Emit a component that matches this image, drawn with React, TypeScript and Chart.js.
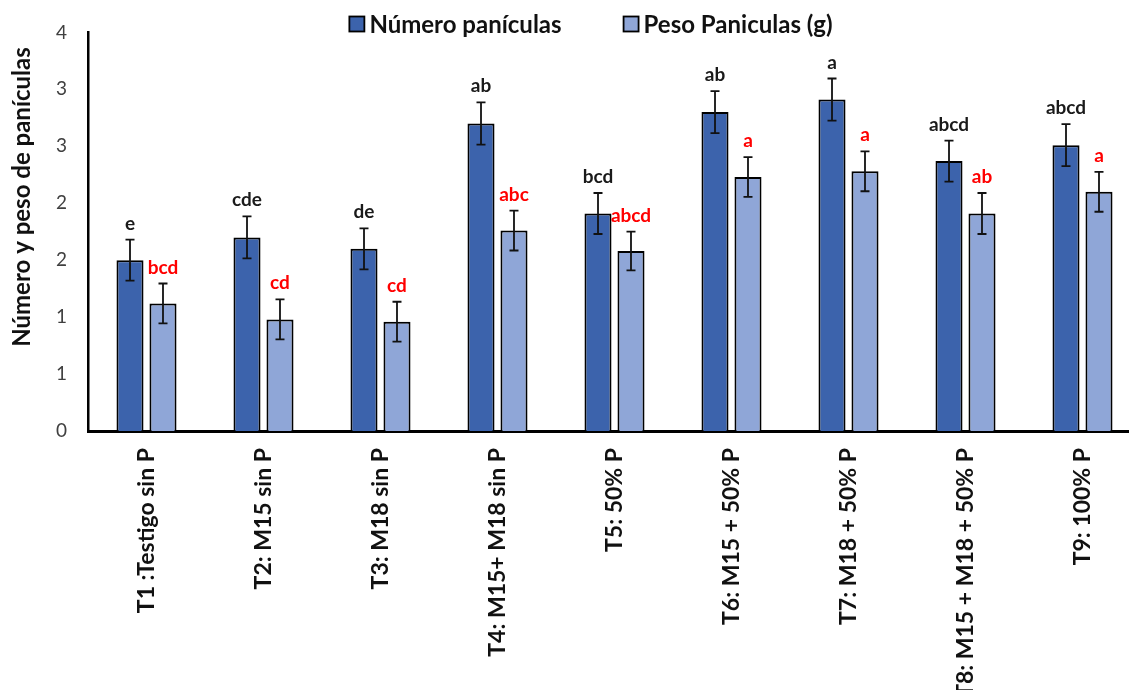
import React, { useEffect, useRef } from "react";
import { Chart, registerables } from "chart.js";

Chart.register(...registerables);

const categories = [
  "T1 :Testigo sin P",
  "T2: M15 sin P",
  "T3: M18 sin P",
  "T4: M15+ M18 sin P",
  "T5: 50% P",
  "T6: M15 + 50% P",
  "T7: M18 + 50% P",
  "T8: M15 + M18 + 50% P",
  "T9: 100% P",
];
const seriesNames = ["Número panículas", "Peso Paniculas (g)"];
const numeroValues = [1.5, 1.7, 1.6, 2.7, 1.91, 2.8, 2.91, 2.37, 2.51];
const numeroErrors = [0.18, 0.185, 0.18, 0.185, 0.18, 0.185, 0.185, 0.18, 0.185];
const pesoValues = [1.12, 0.98, 0.96, 1.76, 1.58, 2.23, 2.28, 1.91, 2.1];
const pesoErrors = [0.175, 0.175, 0.175, 0.175, 0.17, 0.175, 0.175, 0.18, 0.175];
const numeroLetters = ["e", "cde", "de", "ab", "bcd", "ab", "a", "abcd", "abcd"];
const pesoLetters = ["bcd", "cd", "cd", "abc", "abcd", "a", "a", "ab", "a"];
const yTickLabels = ["0", "1", "1", "2", "2", "3", "3", "4"];
const yAxisTitle = "Número y peso de panículas";

const FONT = "Lato, 'Open Sans', sans-serif";
const DARK = "#3C63AC";
const LIGHT = "#8FA6D7";
const errorsBySeries = [numeroErrors, pesoErrors];
const lettersBySeries = [numeroLetters, pesoLetters];
const letterColors = ["#1a1a1a", "#FF0000"];

const errorPlugin = {
  id: "errorBarsLetters",
  afterDatasetsDraw(chart: any) {
    const ctx = chart.ctx;
    const y = chart.scales.y;
    chart.data.datasets.forEach((ds: any, di: number) => {
      const meta = chart.getDatasetMeta(di);
      const errs = errorsBySeries[di];
      const letters = lettersBySeries[di];
      meta.data.forEach((el: any, i: number) => {
        const v = ds.data[i];
        const e = errs[i];
        const top = y.getPixelForValue(v + e);
        const bot = y.getPixelForValue(v - e);
        const x = el.x;
        ctx.save();
        ctx.strokeStyle = "#111";
        ctx.lineWidth = 1.8;
        ctx.beginPath();
        ctx.moveTo(x, top);
        ctx.lineTo(x, bot);
        ctx.moveTo(x - 4.5, top);
        ctx.lineTo(x + 4.5, top);
        ctx.moveTo(x - 4.5, bot);
        ctx.lineTo(x + 4.5, bot);
        ctx.stroke();
        ctx.fillStyle = letterColors[di];
        ctx.font = `bold 19px ${FONT}`;
        ctx.textAlign = "center";
        ctx.textBaseline = "alphabetic";
        ctx.fillText(letters[i], x, top - 10);
        ctx.restore();
      });
    });
  },
  afterDraw(chart: any) {
    const ctx = chart.ctx;
    ctx.save();
    // y-axis title
    ctx.translate(22, 197);
    ctx.rotate(-Math.PI / 2);
    ctx.font = `bold 24px ${FONT}`;
    ctx.fillStyle = "#111";
    ctx.textAlign = "center";
    ctx.textBaseline = "middle";
    ctx.fillText(yAxisTitle, 0, 0);
    ctx.restore();

    // legend
    ctx.save();
    ctx.font = `bold 24px ${FONT}`;
    ctx.textBaseline = "middle";
    ctx.textAlign = "left";
    const box = 15;
    const gapBoxText = 5;
    const gapItems = 62;
    const widths = chart.data.datasets.map((d: any) => ctx.measureText(d.label).width);
    const total =
      widths.reduce((a: number, w: number) => a + box + gapBoxText + w, 0) + gapItems * (widths.length - 1);
    let x = 591 - total / 2;
    const cy = 24;
    chart.data.datasets.forEach((d: any, i: number) => {
      ctx.fillStyle = d.backgroundColor;
      ctx.fillRect(x, cy - box / 2, box, box);
      ctx.strokeStyle = "#000";
      ctx.lineWidth = 1.8;
      ctx.strokeRect(x, cy - box / 2, box, box);
      ctx.fillStyle = "#111";
      ctx.fillText(d.label, x + box + gapBoxText, cy + 1);
      x += box + gapBoxText + widths[i] + gapItems;
    });
    ctx.restore();
  },
};

export default function App() {
  const ref = useRef<HTMLCanvasElement>(null);
  useEffect(() => {
    if (!ref.current) return;
    const chart = new Chart(ref.current, {
      type: "bar",
      data: {
        labels: categories,
        datasets: [
          {
            label: seriesNames[0],
            data: numeroValues,
            backgroundColor: DARK,
            borderColor: "#000",
            borderWidth: 2,
            categoryPercentage: 0.564,
            barPercentage: 0.82,
          },
          {
            label: seriesNames[1],
            data: pesoValues,
            backgroundColor: LIGHT,
            borderColor: "#000",
            borderWidth: 2,
            categoryPercentage: 0.564,
            barPercentage: 0.82,
          },
        ],
      },
      options: {
        animation: false,
        responsive: false,
        layout: { padding: { top: 25, left: 0, right: 0, bottom: 0 } },
        plugins: {
          legend: { display: false },
          tooltip: { enabled: false },
          title: { display: false },
        },
        scales: {
          x: {
            z: 1,
            grid: { display: false, drawTicks: false },
            border: { display: true, color: "#000", width: 3 },
            ticks: {
              autoSkip: false,
              minRotation: 90,
              maxRotation: 90,
              padding: 17,
              color: "#111",
              font: { family: FONT, size: 23, weight: "bold" },
            },
            afterFit: (s: any) => {
              s.height = 259;
            },
          },
          y: {
            z: 1,
            min: 0,
            max: 3.5,
            grid: { display: false, drawTicks: false },
            border: { display: true, color: "#000", width: 2.5 },
            ticks: {
              stepSize: 0.5,
              padding: 21,
              color: "#404040",
              font: { family: FONT, size: 19 },
              callback: (_v: any, i: number) => yTickLabels[i],
            },
            afterFit: (s: any) => {
              s.width = 88;
            },
          },
        },
      },
      plugins: [errorPlugin],
    });
    return () => chart.destroy();
  }, []);
  return (
    <div
      style={{
        position: "fixed",
        left: 0,
        top: 0,
        width: 1129,
        height: 690,
        overflow: "hidden",
        background: "#fff",
      }}
    >
      <canvas ref={ref} width={1141} height={690} style={{ display: "block" }} />
    </div>
  );
}
